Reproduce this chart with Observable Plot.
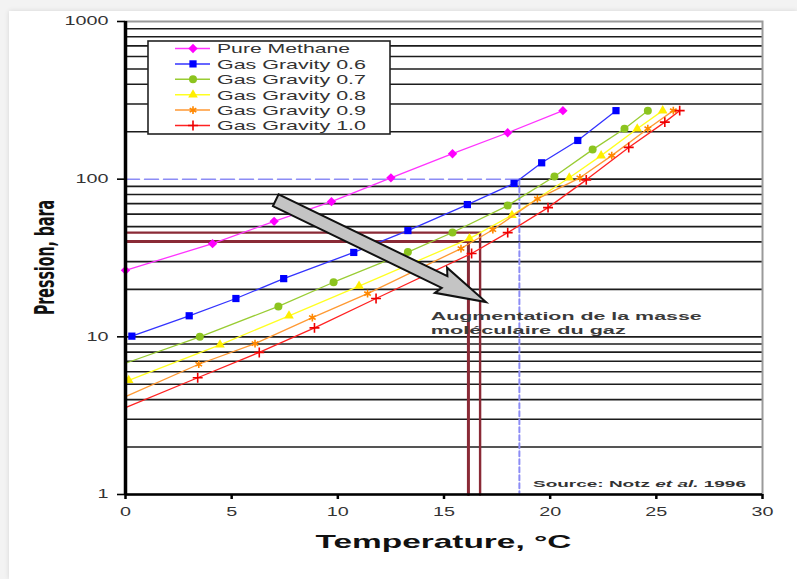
<!DOCTYPE html>
<html><head><meta charset="utf-8">
<script src="https://cdn.jsdelivr.net/npm/d3@7"></script>
<script src="https://cdn.jsdelivr.net/npm/@observablehq/plot@0.6"></script>
<style>
html,body{margin:0;padding:0;background:#f3f3f3;width:797px;height:579px;overflow:hidden;}
#card{position:absolute;left:9px;top:11px;width:788px;height:568px;background:#fff;box-shadow:0 0 5px rgba(0,0,0,0.12);}
</style></head><body><div id="card"></div>
<script>
// ---------- data ----------
const seriesNames = ["Pure Methane","Gas Gravity 0.6","Gas Gravity 0.7","Gas Gravity 0.8","Gas Gravity 0.9","Gas Gravity 1.0"];
const methT = [0, 4.1, 7.0, 9.7, 12.5, 15.4, 18.0, 20.6];
const methP = [26.4, 39, 54, 72, 102, 145, 197, 272];
const g06T = [0.3, 3.0, 5.2, 7.45, 10.75, 13.3, 16.1, 18.3, 19.6, 21.3, 23.1];
const g06P = [10.1, 13.6, 17.5, 23.4, 34.3, 47.2, 69, 94, 127, 176, 272];
const g07T = [0, 3.5, 7.2, 9.8, 13.3, 15.4, 18.0, 20.2, 22.0, 23.5, 24.6];
const g07P = [6.8, 10.0, 15.6, 22.2, 34.5, 45.9, 68, 104, 154, 209, 272];
const g08T = [0.15, 4.45, 7.7, 11.0, 16.2, 18.2, 20.9, 22.4, 24.1, 25.3];
const g08P = [5.3, 8.9, 13.6, 21.0, 42, 59, 102, 141, 209, 272];
const g09T = [0, 3.45, 6.1, 8.8, 11.4, 15.8, 17.3, 19.4, 21.4, 22.9, 24.6, 25.8];
const g09P = [4.18, 6.7, 9.06, 13.25, 18.8, 36.3, 47.8, 75, 102, 141, 209, 272];
const g10T = [0, 3.4, 6.3, 8.9, 11.8, 16.3, 18.0, 19.9, 21.7, 23.7, 25.4, 26.1];
const g10P = [3.56, 5.5, 7.96, 11.4, 17.5, 33.8, 45.8, 66, 99, 159, 230, 272];
const noStartMarker = ["Gas Gravity 0.7","Gas Gravity 0.9","Gas Gravity 1.0"];

const xTicks = [0, 5, 10, 15, 20, 25, 30];
const yTicks = [1, 10, 100, 1000];
const gridVals = [2,3,4,5,6,7,8,9,10,20,30,40,50,60,70,80,90,200,300,400,500,600,700,800,900];

const refBlueT = 18.55, refBlueP = 100;          // dashed blue reference
const hydrateT = [16.15, 16.7];                  // maroon reference lines
const hydrateP = [40.2, 45.8];
const arrowT = [7.1, 17.0];                      // arrow tail -> tip
const arrowP = [73, 16.5];
const annotLines = ["Augmentation de la masse", "moléculaire du gaz"];
const annotT = [14.4, 14.4];
const annotP = [12.7, 10.3];
const sourceText = ["Source: Notz ", "et al.", " 1996"];
const xTitle = "Temperature, °C";
const yTitle = "Pression, bara";

// ---------- styles ----------
const styles = [
  {line:"#ff33ff", color:"#ff00ff", symbol:"diamond2", r:4.2, filled:true},
  {line:"#3333ff", color:"#0000ff", symbol:"square2", r:4.6, filled:true},
  {line:"#99cc33", color:"#8cc41f", symbol:"circle", r:4, filled:true},
  {line:"#ffff22", color:"#ffee00", symbol:"triangle2", r:4.6, filled:true},
  {line:"#ff9933", color:"#ff8800", symbol:"asterisk", r:3.6, filled:false},
  {line:"#ff2222", color:"#ee0000", symbol:"plus", r:3.3, filled:false}
];
const symbolMap = {diamond2:d3.symbolDiamond2, square2:d3.symbolSquare2, circle:d3.symbolCircle,
  triangle2:d3.symbolTriangle2, asterisk:d3.symbolAsterisk, plus:d3.symbolPlus};
const FONT = "'Liberation Sans', Arial, Helvetica, sans-serif";

const seriesT = [methT, g06T, g07T, g08T, g09T, g10T];
const seriesP = [methP, g06P, g07P, g08P, g09P, g10P];
const rows = seriesNames.map((s, k) => seriesT[k].map((t, i) => ({series: s, T: t, P: seriesP[k][i], i})));

// ---------- custom marks ----------
function arrowMark(index, scales, values, dim) {
  const x1 = scales.x(arrowT[0]), y1 = scales.y(arrowP[0]);
  const x2 = scales.x(arrowT[1]), y2 = scales.y(arrowP[1]);
  const dx = x2 - x1, dy = y2 - y1, L = Math.hypot(dx, dy);
  const ux = dx / L, uy = dy / L, nx = -uy, ny = ux;
  const sw = 6.5, hw = 14, hl = 46;
  const bx = x2 - ux * hl, by = y2 - uy * hl;
  const pts = [
    [x1 + nx * sw, y1 + ny * sw], [bx + nx * sw, by + ny * sw], [bx + nx * hw - ux * 4, by + ny * hw - uy * 4],
    [x2, y2], [bx - nx * hw - ux * 4, by - ny * hw - uy * 4], [bx - nx * sw, by - ny * sw], [x1 - nx * sw, y1 - ny * sw]
  ];
  const g = d3.create("svg:g");
  g.append("path").attr("d", "M" + pts.map(p => p.join(",")).join("L") + "Z")
    .attr("fill", "#c4c4c4").attr("stroke", "#111").attr("stroke-width", 2).attr("stroke-linejoin", "miter");
  return g.node();
}

function annotMark(index, scales, values, dim) {
  const g = d3.create("svg:g").attr("font-family", FONT).attr("text-anchor", "start");
  const lens = [271, 195];
  annotLines.forEach((s, i) => {
    g.append("text").attr("x", scales.x(annotT[i])).attr("y", scales.y(annotP[i]))
      .attr("text-anchor", "start")
      .attr("font-size", 11.5).attr("font-weight", "bold").attr("fill", "#3a3a3a")
      .attr("textLength", lens[i]).attr("lengthAdjust", "spacingAndGlyphs").text(s);
  });
  return g.node();
}

function sourceMark(index, scales, values, dim) {
  const g = d3.create("svg:g").attr("font-family", FONT).attr("text-anchor", "start");
  const t = g.append("text").attr("x", dim.width - dim.marginRight - 229).attr("y", dim.height - dim.marginBottom - 7)
    .attr("text-anchor", "start")
    .attr("font-size", 9.5).attr("font-weight", "bold").attr("fill", "#333")
    .attr("textLength", 213).attr("lengthAdjust", "spacingAndGlyphs");
  t.append("tspan").text(sourceText[0]);
  t.append("tspan").attr("font-style", "italic").text(sourceText[1]);
  t.append("tspan").text(sourceText[2]);
  return g.node();
}

function titleMark(index, scales, values, dim) {
  const g = d3.create("svg:g").attr("font-family", FONT).attr("fill", "#111");
  g.append("text").attr("x", dim.marginLeft + (dim.width - dim.marginLeft - dim.marginRight) / 2)
    .attr("y", dim.height - dim.marginBottom + 54).attr("text-anchor", "middle")
    .attr("font-size", 18.5).attr("font-weight", "bold")
    .attr("textLength", 256).attr("lengthAdjust", "spacingAndGlyphs").text(xTitle);
  g.append("text").attr("transform", `translate(${dim.marginLeft - 71},${dim.marginTop + (dim.height - dim.marginTop - dim.marginBottom) / 2}) rotate(-90)`)
    .attr("text-anchor", "middle").attr("font-size", 26).attr("font-weight", "bold")
    .attr("font-family", "'Liberation Sans Narrow', 'DejaVu Sans Condensed', " + FONT)
    .attr("textLength", 115).attr("lengthAdjust", "spacingAndGlyphs").text(yTitle);
  return g.node();
}

function legendMark(index, scales, values, dim) {
  const g = d3.create("svg:g").attr("font-family", FONT).attr("text-anchor", "start");
  const x0 = dim.marginLeft + 23, y0 = dim.marginTop + 20;
  g.append("rect").attr("x", x0).attr("y", y0).attr("width", 242).attr("height", 93)
    .attr("fill", "#fff").attr("stroke", "#222").attr("stroke-width", 1.6);
  seriesNames.forEach((name, i) => {
    const st = styles[i], yy = y0 + 7.5 + i * 15.4;
    g.append("line").attr("x1", x0 + 27).attr("x2", x0 + 62).attr("y1", yy).attr("y2", yy)
      .attr("stroke", st.line).attr("stroke-width", 1.5);
    const p = g.append("path").attr("d", d3.symbol(symbolMap[st.symbol], Math.PI * st.r * st.r)())
      .attr("transform", `translate(${x0 + 45},${yy})`);
    if (st.filled) p.attr("fill", st.color); else p.attr("fill", "none").attr("stroke", st.color).attr("stroke-width", 1.6);
    g.append("text").attr("x", x0 + 69).attr("y", yy).attr("dy", "0.36em").attr("text-anchor", "start")
      .attr("font-size", 13.5).attr("fill", "#333")
      .attr("textLength", i === 0 ? 133 : 149).attr("lengthAdjust", "spacingAndGlyphs").text(name);
  });
  return g.node();
}

// ---------- plot ----------
const seriesMarks = rows.flatMap((data, k) => {
  const st = styles[k];
  const dotData = data.filter(d => !(d.i === 0 && noStartMarker.includes(d.series)));
  const dotOpts = st.filled
    ? {x: "T", y: "P", symbol: st.symbol, r: st.r, fill: st.color}
    : {x: "T", y: "P", symbol: st.symbol, r: st.r, stroke: st.color, fill: "none", strokeWidth: 1.6};
  return [
    Plot.line(data, {x: "T", y: "P", stroke: st.line, strokeWidth: 1.3}),
    Plot.dot(dotData, dotOpts)
  ];
});

const hydrateLines = hydrateT.map((t, k) => [{T: 0, P: hydrateP[k]}, {T: t, P: hydrateP[k]}, {T: t, P: 1}]);

const chart = Plot.plot({
  width: 788, height: 568,
  marginLeft: 116, marginRight: 35, marginTop: 10, marginBottom: 85,
  style: {background: "white", fontFamily: FONT, overflow: "visible"},
  x: {domain: [0, 30]},
  y: {type: "log", domain: [1, 1000]},
  marks: [
    Plot.ruleY(gridVals, {stroke: "#1c1c1c", strokeWidth: 1.6}),
    Plot.ruleY([refBlueP], {x1: refBlueT, x2: 30, stroke: "#1c1c1c", strokeWidth: 1.6}),
    Plot.frame({stroke: "#9a9a9a", strokeWidth: 2}),
    Plot.line([{T: 0, P: refBlueP}, {T: refBlueT, P: refBlueP}], {x: "T", y: "P", stroke: "#8c8cf5", strokeWidth: 1.5, strokeDasharray: "14,5"}),
    Plot.line([{T: refBlueT, P: refBlueP}, {T: refBlueT, P: 1}], {x: "T", y: "P", stroke: "#8c8cf5", strokeWidth: 2, strokeDasharray: "5,3"}),
    ...hydrateLines.map((d, k) => Plot.line(d, {x: "T", y: "P", stroke: "#8a2a36", strokeWidth: k === 0 ? 3 : 2.4})),
    ...seriesMarks,
    arrowMark,
    annotMark,
    sourceMark,
    Plot.ruleX([0], {stroke: "#000", strokeWidth: 3.5}),
    Plot.ruleY([1], {stroke: "#000", strokeWidth: 2.5}),
    Plot.axisY(yTicks, {tickFormat: d => String(d), tickSize: 8, tickPadding: 9, stroke: "#000", strokeWidth: 1.6, fill: "#333", fontSize: 12, label: null}),
    Plot.axisX(xTicks, {tickFormat: d => String(d), tickSize: 5, tickPadding: 8, stroke: "#000", strokeWidth: 2.5, fill: "#333", fontSize: 12, label: null}),
    legendMark,
    titleMark
  ]
});

chart.querySelectorAll("text").forEach(t => {
  const s = t.textContent;
  if (/^\d+$/.test(s) && t.children.length === 0) {
    t.setAttribute("textLength", s.length * 11);
    t.setAttribute("lengthAdjust", "spacingAndGlyphs");
    t.setAttribute("font-size", "12");
  }
});

document.getElementById("card").appendChild(chart);
</script></body></html>
